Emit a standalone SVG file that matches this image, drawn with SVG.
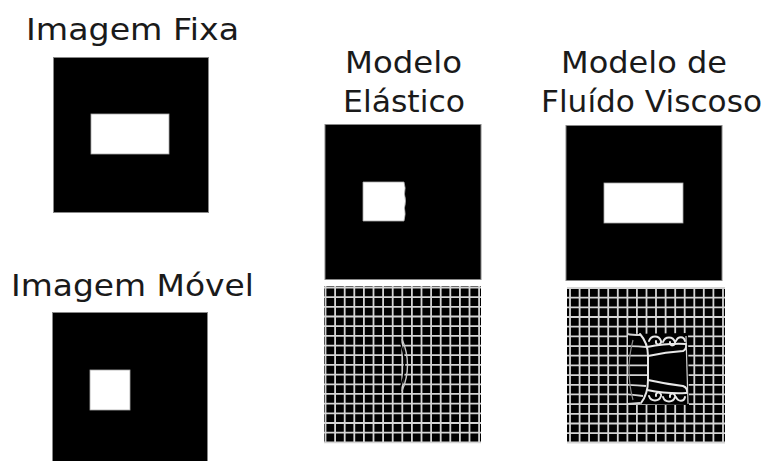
<svg xmlns="http://www.w3.org/2000/svg" width="761" height="461" viewBox="0 0 761 461">
<style>
  .lbl { font-family: "DejaVu Sans", Verdana, sans-serif; font-size: 31px; fill: #1a1a1a; }
  .box { fill: #000; stroke: #888; stroke-width: 1; }
  .obj { fill: #fff; stroke: #aaa; stroke-width: 0.8; }
  .grid { fill: none; stroke: #d4d4d4; stroke-width: 1.8; }
  .warp { fill: none; stroke: #e8e8e8; stroke-width: 2; stroke-linecap: round; }
  .faint { fill: none; stroke: #8a8a8a; stroke-width: 1.2; }
</style>
<rect width="761" height="461" fill="#fff"/>

<g id="fixa">
  <text class="lbl" x="26" y="40" textLength="213" lengthAdjust="spacingAndGlyphs">Imagem Fixa</text>
  <rect class="box" x="53.5" y="57.5" width="155" height="155"/>
  <rect class="obj" x="91" y="114" width="78" height="40"/>
</g>

<g id="movel">
  <text class="lbl" x="11" y="296" textLength="243" lengthAdjust="spacingAndGlyphs">Imagem Móvel</text>
  <rect class="box" x="52.5" y="312.5" width="155" height="155"/>
  <rect class="obj" x="90" y="370" width="40" height="40"/>
</g>

<g id="elastico">
  <text class="lbl" x="345" y="73" textLength="117" lengthAdjust="spacingAndGlyphs">Modelo</text>
  <text class="lbl" x="343" y="112" textLength="122" lengthAdjust="spacingAndGlyphs">Elástico</text>
  <rect class="box" x="325" y="124.5" width="156" height="155"/>
  <path class="obj" d="M363,182 L404,182 Q406,188 404.5,194 Q406.5,201 404.5,208 Q406,214 404,221 L363,221 Z"/>
</g>

<g id="elastico-grade">
  <rect x="324" y="286" width="157" height="157" fill="#000"/>
  <path class="grid" d="M325.5,286V443 M335.1,286V443 M344.7,286V443 M354.3,286V443 M363.9,286V443 M373.5,286V443 M383.1,286V443 M392.7,286V443 M402.3,286V443 M411.9,286V443 M421.5,286V443 M431.1,286V443 M440.7,286V443 M450.3,286V443 M459.9,286V443 M469.5,286V443 M479.1,286V443
    M324,287.5H481 M324,297.2H481 M324,306.9H481 M324,316.5H481 M324,326.2H481 M324,335.9H481 M324,345.6H481 M324,355.2H481 M324,364.9H481 M324,374.6H481 M324,384.3H481 M324,393.9H481 M324,403.6H481 M324,413.3H481 M324,423H481 M324,432.6H481 M324,442.3H481"/>
  <path d="M399,339 Q410,365 399,391" fill="none" stroke="#000" stroke-width="1.5"/>
  <path d="M402,339 Q413,365 402,391" fill="none" stroke="#c8c8c8" stroke-width="1.4"/>
</g>

<g id="viscoso">
  <text class="lbl" x="561" y="73" textLength="166" lengthAdjust="spacingAndGlyphs">Modelo de</text>
  <text class="lbl" x="541" y="112" textLength="221" lengthAdjust="spacingAndGlyphs">Fluído Viscoso</text>
  <rect class="box" x="566" y="125.5" width="156" height="155"/>
  <rect class="obj" x="604" y="183" width="79" height="40"/>
</g>

<g id="viscoso-grade">
  <rect x="567" y="287" width="158" height="156" fill="#000"/>
  <path class="grid" d="M570,287V443 M579.6,287V443 M589.1,287V443 M598.7,287V443 M608.2,287V443 M617.8,287V443 M627.4,287V443 M636.9,287V443 M646.5,287V443 M656,287V443 M665.6,287V443 M675.2,287V443 M684.7,287V443 M694.3,287V443 M703.8,287V443 M713.4,287V443 M723,287V443
    M567,288H725 M567,297.7H725 M567,307.4H725 M567,317H725 M567,326.7H725 M567,336.4H725 M567,346.1H725 M567,355.7H725 M567,365.4H725 M567,375.1H725 M567,384.8H725 M567,394.4H725 M567,404.1H725 M567,413.8H725 M567,423.5H725 M567,433.1H725 M567,442.5H725"/>
  <path d="M628,334 L688,333 L689,405 L628,404 Z" fill="#000"/>
  <path class="grid" d="M628,346.1 Q638,346 646,347 M628,355.7 H648 M628,365.4 H648 M628,375.1 H648 M628,384.8 Q638,385 646,386 M628,394.4 Q636,395 643,396"/>
  <path class="grid" d="M627.4,334 Q632,335 640,335 M627.4,404 L640,403"/>
  <path class="faint" d="M633,340 Q625,370 633,400"/>
  <path class="warp" d="M640,334 Q648,343 648,356 L648,380 Q648,394 641,403"/>
  <path class="warp" d="M648,356 Q666,352 683,351 Q687,349 686,344"/>
  <path class="warp" d="M647,347 Q668,343 686,344"/>
  <path class="warp" d="M648,380 Q666,384 683,386 Q688,388 687,393"/>
  <path class="warp" d="M647,390 Q668,394 686,393"/>
  <path class="warp" d="M649,341 c2,-6 10,-6 12,0 c1,4 -6,5 -5,0 M663,342 c2,-6 10,-6 12,0 c1,4 -6,5 -5,0 M676,341 c2,-5 8,-5 9,0"/>
  <path class="warp" d="M649,396 c2,6 10,6 12,0 c1,-4 -6,-5 -5,0 M663,397 c2,6 10,6 12,0 c1,-4 -6,-5 -5,0 M676,397 c2,5 8,5 9,0"/>
  <path d="M686,336 L688,404" fill="none" stroke="#d4d4d4" stroke-width="1.2"/>
</g>
</svg>
